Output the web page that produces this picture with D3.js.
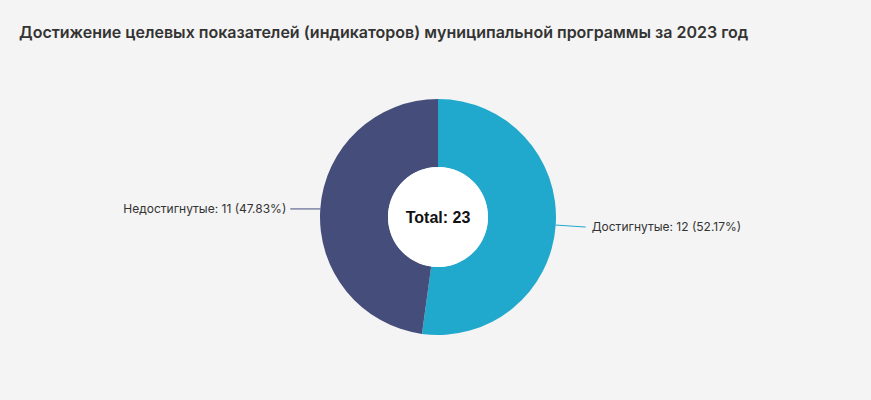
<!DOCTYPE html>
<html><head><meta charset="utf-8">
<script src="https://cdn.jsdelivr.net/npm/d3@7"></script>
<style>body{margin:0;background:#f4f4f4;font-family:Inter,"Noto Sans",sans-serif;}</style>
</head><body>
<svg id="chart" width="871" height="400"></svg>
<script>
const labels = ["Достигнутые", "Недостигнутые"];
const values = [12, 11];
const colors = ["#20a9cc", "#454e7b"];

const svg = d3.select("#chart");
svg.append("rect").attr("width", 871).attr("height", 400).attr("fill", "#f4f4f4");

svg.append("text")
  .attr("x", 19).attr("y", 38)
  .attr("font-size", 16).attr("font-weight", 600).attr("fill", "#333")
  .text("Достижение целевых показателей (индикаторов) муниципальной программы за 2023 год");

const cx = 438, cy = 217, rOut = 118, rIn = 50;
const total = d3.sum(values);
const data = labels.map((l, i) => ({ label: l, value: values[i], color: colors[i] }));

const pie = d3.pie().sort(null).value(d => d.value);
const arc = d3.arc().innerRadius(rIn).outerRadius(rOut);
const g = svg.append("g").attr("transform", `translate(${cx},${cy})`);

const arcs = pie(data);
g.selectAll("path").data(arcs).enter().append("path")
  .attr("d", arc).attr("fill", d => d.data.color);

g.append("circle").attr("r", rIn).attr("fill", "#fff");
g.append("text").attr("text-anchor", "middle").attr("dy", "0.35em")
  .attr("font-family", "Arial, Liberation Sans, sans-serif")
  .attr("font-size", 16).attr("font-weight", "bold").attr("fill", "#111")
  .text(`Total: ${total}`);

arcs.forEach(a => {
  const mid = (a.startAngle + a.endAngle) / 2;
  const sx = Math.sin(mid), sy = -Math.cos(mid);
  const p0 = [sx * rOut, sy * rOut];
  const right = sx > 0;
  const p1 = [p0[0] + (right ? 30 : -30), p0[1] + (right ? 2 : 0)];
  g.append("path")
    .attr("d", d3.line()([p0, p1]))
    .attr("fill", "none").attr("stroke", a.data.color).attr("stroke-width", 1);
  const pct = (a.data.value / total * 100).toFixed(2);
  g.append("text")
    .attr("x", p1[0] + (right ? 6 : -4)).attr("y", p1[1]).attr("dy", "0.35em")
    .attr("text-anchor", right ? "start" : "end")
    .attr("font-size", 12).attr("fill", "#333")
    .text(`${a.data.label}: ${a.data.value} (${pct}%)`);
});
</script>
</body></html>
